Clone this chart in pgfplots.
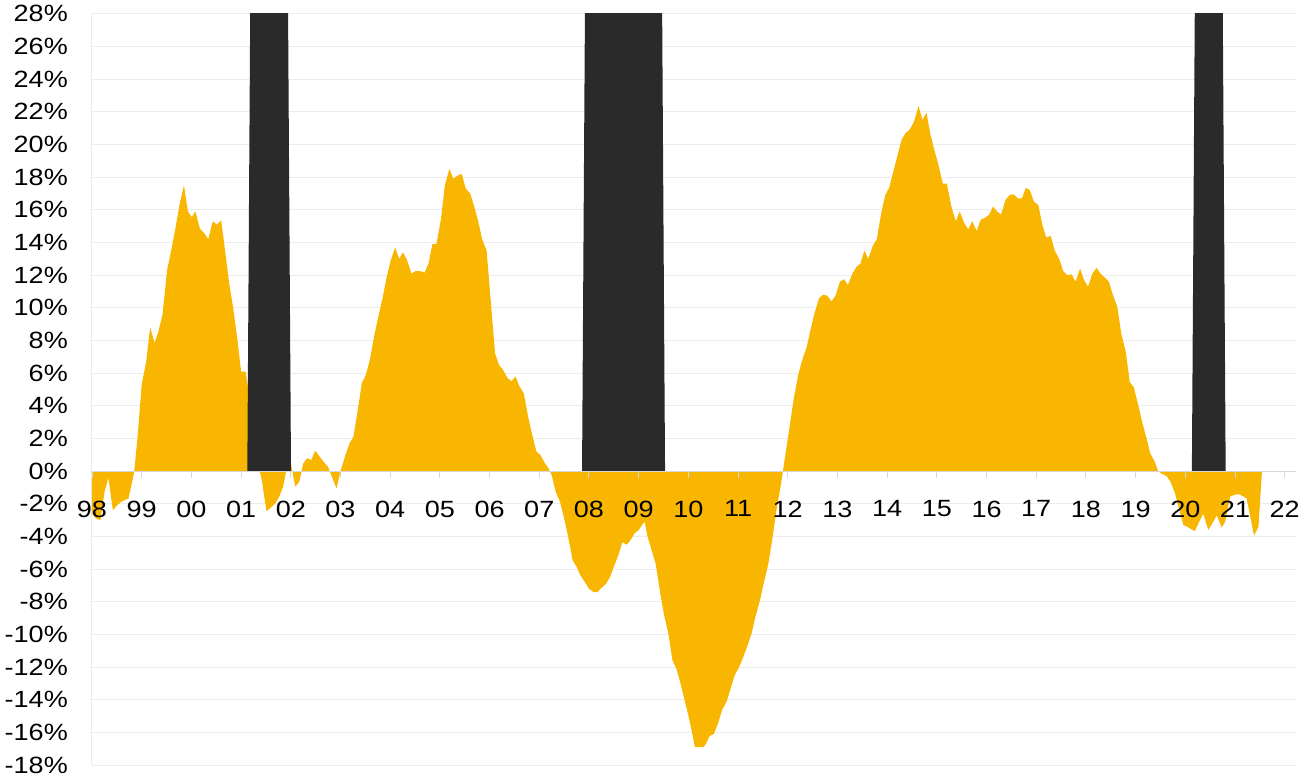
\documentclass[border=0pt]{standalone}
\usepackage{fontspec}
\setmainfont{Liberation Sans}[FakeStretch=1.15]
\usepackage{pgfplots}
\usepackage{pgfplotstable}
\pgfplotsset{compat=1.18}

\definecolor{gold}{RGB}{249,182,0}
\definecolor{recess}{RGB}{42,42,42}
\definecolor{gridc}{RGB}{236,236,236}
\definecolor{zeroc}{RGB}{215,215,215}

\newcommand{\tickfont}{\fontsize{23.5bp}{28bp}\selectfont}

% year-over-year change, monthly
\pgfplotstableread{
year    val
1998.00 -2.6
1998.08 -2.9
1998.17 -3.0
1998.25 -1.3
1998.33 -0.4
1998.42 -2.4
1998.50 -2.1
1998.58 -1.9
1998.67 -1.75
1998.73 -1.7
1998.79 -0.9
1998.85 0
1998.92 2.2
1999.00 5.3
1999.09 6.7
1999.17 8.8
1999.26 7.85
1999.34 8.6
1999.42 9.6
1999.51 12.3
1999.60 13.6
1999.68 14.9
1999.76 16.3
1999.85 17.5
1999.93 15.9
2000.01 15.55
2000.08 15.9
2000.17 14.85
2000.25 14.6
2000.34 14.2
2000.43 15.3
2000.51 15.1
2000.60 15.35
2000.67 13.7
2000.76 11.5
2000.84 10.0
2000.92 8.2
2001.00 6.1
2001.09 6.1
2001.17 4.5
2001.25 2.25
2001.33 0.6
2001.42 -0.6
2001.51 -2.45
2001.59 -2.25
2001.68 -2.0
2001.76 -1.6
2001.84 -1.0
2001.92 0.2
2002.00 0.5
2002.09 -0.95
2002.17 -0.65
2002.25 0.47
2002.33 0.8
2002.41 0.67
2002.49 1.26
2002.57 0.94
2002.66 0.57
2002.75 0.26
2002.84 -0.45
2002.92 -1.05
2003.00 0
2003.09 0.9
2003.18 1.7
2003.26 2.1
2003.34 3.6
2003.43 5.4
2003.51 5.9
2003.59 6.8
2003.68 8.3
2003.76 9.45
2003.84 10.5
2003.93 11.9
2004.01 12.9
2004.10 13.7
2004.18 13.0
2004.26 13.4
2004.34 12.9
2004.43 12.1
2004.51 12.25
2004.60 12.25
2004.69 12.15
2004.77 12.7
2004.85 13.9
2004.93 13.9
2005.02 15.4
2005.10 17.5
2005.19 18.5
2005.27 17.9
2005.36 18.1
2005.44 18.2
2005.52 17.3
2005.61 17.0
2005.69 16.2
2005.77 15.3
2005.85 14.2
2005.94 13.5
2006.11 7.2
2006.19 6.5
2006.27 6.2
2006.36 5.7
2006.44 5.5
2006.52 5.8
2006.60 5.2
2006.69 4.75
2006.77 3.4
2006.86 2.2
2006.94 1.2
2007.02 1.0
2007.11 0.5
2007.19 0.15
2007.25 -0.25
2007.33 -1.27
2007.42 -1.9
2007.50 -2.9
2007.58 -4.0
2007.67 -5.45
2007.75 -5.85
2007.83 -6.4
2007.92 -6.8
2008.00 -7.2
2008.09 -7.4
2008.17 -7.4
2008.25 -7.15
2008.34 -6.9
2008.42 -6.5
2008.50 -5.85
2008.59 -5.15
2008.67 -4.35
2008.76 -4.5
2008.84 -4.2
2008.92 -3.8
2009.00 -3.6
2009.09 -3.2
2009.12 -3.1
2009.17 -3.9
2009.26 -4.85
2009.34 -5.65
2009.43 -7.4
2009.51 -8.8
2009.60 -10.0
2009.68 -11.6
2009.76 -12.1
2009.85 -13.1
2009.93 -14.1
2010.01 -15.1
2010.10 -16.4
2010.13 -16.9
2010.30 -16.9
2010.35 -16.7
2010.43 -16.2
2010.51 -16.1
2010.60 -15.4
2010.68 -14.6
2010.77 -14.1
2010.85 -13.3
2010.93 -12.5
2011.02 -12.0
2011.10 -11.4
2011.18 -10.75
2011.27 -9.95
2011.35 -8.9
2011.44 -7.9
2011.52 -6.8
2011.61 -5.65
2011.69 -4.1
2011.77 -2.4
2011.86 -0.85
2011.98 1.6
2012.04 2.8
2012.12 4.45
2012.21 5.9
2012.29 6.8
2012.38 7.6
2012.46 8.7
2012.54 9.7
2012.63 10.6
2012.71 10.8
2012.79 10.75
2012.88 10.4
2012.96 10.75
2013.05 11.6
2013.13 11.75
2013.21 11.4
2013.30 12.1
2013.38 12.5
2013.46 12.7
2013.54 13.5
2013.62 13.0
2013.71 13.8
2013.79 14.2
2013.88 15.8
2013.96 16.9
2014.04 17.35
2014.12 18.3
2014.20 19.25
2014.29 20.3
2014.37 20.7
2014.45 20.9
2014.54 21.4
2014.63 22.35
2014.71 21.5
2014.79 21.95
2014.87 20.6
2014.95 19.65
2015.03 18.75
2015.12 17.6
2015.20 17.6
2015.29 16.2
2015.38 15.3
2015.46 15.9
2015.54 15.25
2015.63 14.8
2015.71 15.3
2015.80 14.7
2015.88 15.4
2015.96 15.5
2016.05 15.7
2016.13 16.2
2016.21 15.9
2016.29 15.7
2016.38 16.6
2016.46 16.9
2016.54 16.95
2016.63 16.7
2016.71 16.7
2016.79 17.35
2016.87 17.2
2016.95 16.5
2017.04 16.3
2017.12 15.1
2017.20 14.3
2017.29 14.4
2017.37 13.5
2017.46 13.0
2017.54 12.25
2017.62 12.0
2017.71 12.05
2017.79 11.6
2017.88 12.4
2017.96 11.7
2018.04 11.3
2018.13 12.1
2018.21 12.45
2018.29 12.1
2018.38 11.85
2018.46 11.6
2018.54 10.8
2018.63 10.05
2018.71 8.4
2018.80 7.3
2018.88 5.45
2018.96 5.15
2019.05 4.05
2019.13 3.0
2019.21 2.1
2019.29 1.1
2019.38 0.6
2019.45 0
2019.52 -0.15
2019.62 -0.3
2019.70 -0.65
2019.79 -1.35
2019.87 -2.3
2019.96 -3.3
2020.04 -3.4
2020.09 -3.5
2020.19 -3.67
2020.26 -3.2
2020.36 -2.6
2020.46 -3.6
2020.56 -3.1
2020.63 -2.7
2020.73 -3.45
2020.80 -3.1
2020.90 -1.55
2020.99 -1.45
2021.06 -1.4
2021.14 -1.5
2021.23 -1.65
2021.30 -2.7
2021.38 -3.95
2021.47 -3.4
2021.54 0
}\growth

% recession periods (shaded to the top of the chart)
\pgfplotstableread{
year     val
2001.125 0
2001.208 40
2001.920 40
2002.004 0
}\recA
\pgfplotstableread{
year     val
2007.860 0
2007.943 40
2009.447 40
2009.530 0
}\recB
\pgfplotstableread{
year     val
2020.130 0
2020.213 40
2020.727 40
2020.810 0
}\recC

\begin{document}
\begin{tikzpicture}
\pgfplotsset{
  base/.style={
    scale only axis, width=1204bp, height=751.4bp,
    xmin=1998, xmax=2022.225, ymin=-18, ymax=28,
    at={(0,0)}, anchor=south west,
  },
}
% data, grid and value labels
\begin{axis}[
  base, name=main,
  axis x line=none, axis y line=left,
  y axis line style={-, draw=gridc, line width=1bp},
  xtick=\empty,
  ytick={-18,-16,...,28},
  yticklabels={-18\%,-16\%,-14\%,-12\%,-10\%,-8\%,-6\%,-4\%,-2\%,0\%,2\%,4\%,6\%,8\%,10\%,12\%,14\%,16\%,18\%,20\%,22\%,24\%,26\%,28\%},
  major tick length=0pt,
  ymajorgrids, grid style={draw=gridc, line width=1bp},
  yticklabel style={anchor=east, inner sep=0pt, xshift=-24bp, font=\tickfont},
]
\addplot[fill=gold, draw=none] table[x=year, y=val] {\growth} \closedcycle;
\addplot[fill=recess, draw=none] table[x=year, y=val] {\recA} \closedcycle;
\addplot[fill=recess, draw=none] table[x=year, y=val] {\recB} \closedcycle;
\addplot[fill=recess, draw=none] table[x=year, y=val] {\recC} \closedcycle;
\end{axis}
% zero line with year ticks, on top of the areas
\begin{axis}[
  base,
  axis x line=middle, axis y line=none,
  x axis line style={-, draw=zeroc, line width=1bp},
  xtick={1998,1999,...,2022},
  xticklabels={98,99,00,01,02,03,04,05,06,07,08,09,10,11,12,13,14,15,16,17,18,19,20,21,22},
  ytick=\empty,
  tick align=outside, major tick length=7bp,
  xtick style={draw=zeroc, line width=1bp},
  xticklabel style={anchor=north, inner sep=0pt, yshift=-22.3bp, font=\tickfont},
]
\end{axis}
\pgfresetboundingbox
\path[use as bounding box] ([shift={(-92bp,-11.8bp)}]main.south west) rectangle ([shift={(16bp,13.8bp)}]main.north east);
\end{tikzpicture}
\end{document}
